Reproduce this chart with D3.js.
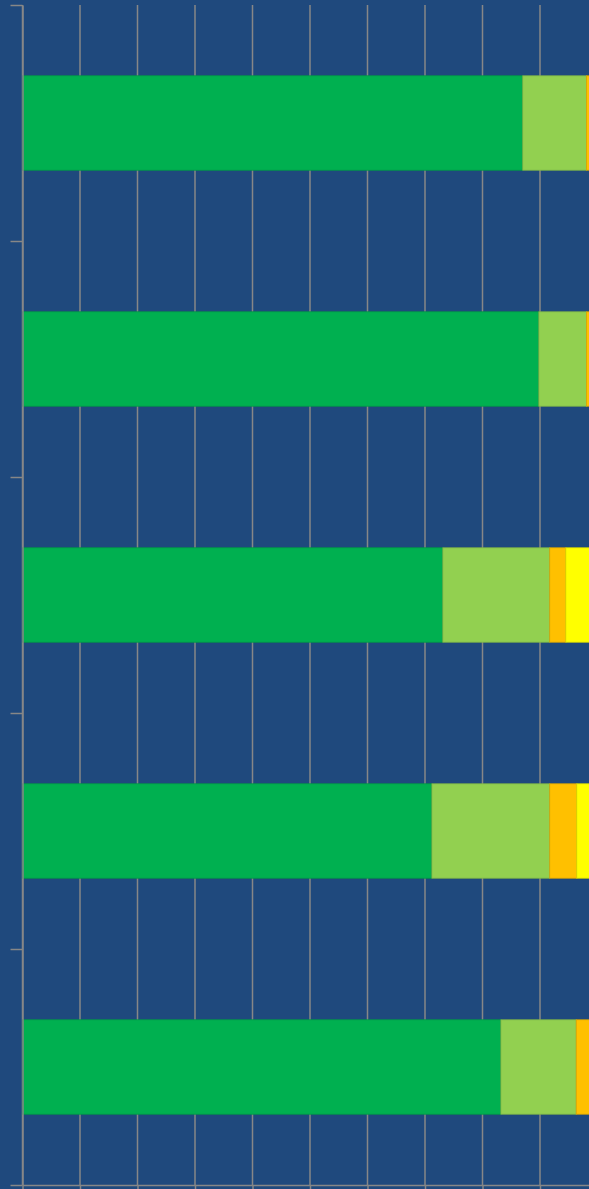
<!DOCTYPE html>
<html>
<head>
<meta charset="utf-8">
<script src="https://cdn.jsdelivr.net/npm/d3@7"></script>
<style>
  html, body { margin: 0; padding: 0; background: #1f497d; overflow: hidden; }
</style>
</head>
<body>
<script>
// Chart data
const categories = ["Category 1", "Category 2", "Category 3", "Category 4", "Category 5"];
const seriesNames = ["S1", "S2", "S3", "S4"];
const s1 = [87.0, 89.8, 73.1, 71.2, 83.2];
const s2 = [11.1, 8.3, 18.6, 20.5, 13.1];
const s3 = [1.9, 1.9, 2.8, 4.7, 3.7];
const s4 = [0, 0, 5.5, 3.6, 0];
const xTicks = [0, 10, 20, 30, 40, 50, 60, 70, 80, 90, 100];
const colors = ["#00b050", "#92d050", "#ffc000", "#ffff00"];

const margin = { top: 5, right: 20, bottom: 4, left: 22.5 };
const innerWidth = 575;
const innerHeight = 1180;

const svg = d3.select("body").append("svg")
  .attr("width", innerWidth + margin.left + margin.right)
  .attr("height", innerHeight + margin.top + margin.bottom)
  .style("display", "block");

const root = svg.append("g")
  .attr("transform", `translate(${margin.left},${margin.top})`);

const rows = categories.map((c, i) => ({ name: c, S1: s1[i], S2: s2[i], S3: s3[i], S4: s4[i] }));
const stacked = d3.stack().keys(seriesNames)(rows);

const x = d3.scaleLinear().domain([0, 100]).range([0, innerWidth]);
const y = d3.scaleBand().domain(categories).range([0, innerHeight])
  .paddingInner(0.6).paddingOuter(0.3);
// band boundaries for y ticks
const yEdge = d3.scaleLinear().domain([0, categories.length]).range([0, innerHeight]);

const gridColor = "#878787";

// vertical gridlines
root.append("g").selectAll("line")
  .data(xTicks)
  .join("line")
  .attr("x1", d => x(d)).attr("x2", d => x(d))
  .attr("y1", 0).attr("y2", innerHeight)
  .attr("stroke", gridColor)
  .attr("stroke-width", 1.5);

// bars
root.append("g").selectAll("g")
  .data(stacked)
  .join("g")
  .attr("fill", (d, i) => colors[i])
  .attr("stroke", (d, i) => d3.color(colors[i]).darker(0.4))
  .attr("stroke-width", 0.8)
  .selectAll("rect")
  .data(d => d.filter(p => p[1] - p[0] > 0))
  .join("rect")
  .attr("x", p => x(p[0]))
  .attr("width", p => x(p[1]) - x(p[0]))
  .attr("y", p => y(p.data.name))
  .attr("height", y.bandwidth());

// x axis
const xAxis = root.append("g")
  .attr("transform", `translate(0,${innerHeight})`)
  .call(d3.axisBottom(x).tickValues(xTicks).tickSize(8).tickSizeOuter(0).tickFormat(""));

// y axis
const yAxis = root.append("g")
  .call(d3.axisLeft(yEdge).tickValues(d3.range(categories.length + 1)).tickSize(12).tickSizeOuter(0).tickFormat(""));

[xAxis, yAxis].forEach(a => {
  a.selectAll("path, line").attr("stroke", gridColor).attr("stroke-width", 1.5);
});
</script>
</body>
</html>
